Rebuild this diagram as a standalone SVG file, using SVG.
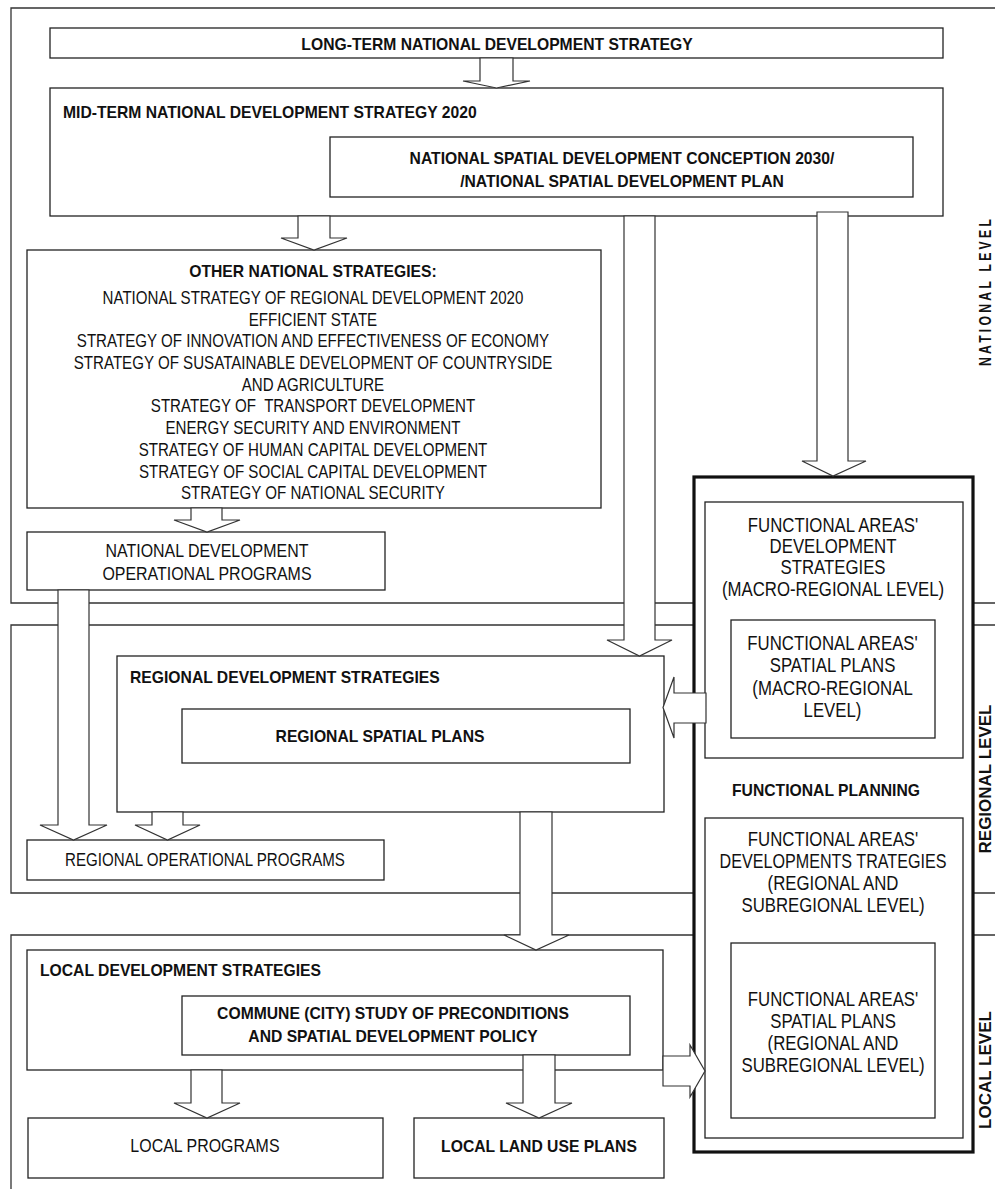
<svg xmlns="http://www.w3.org/2000/svg" width="995" height="1189" viewBox="0 0 995 1189">
<style>
.frame{fill:none;stroke:#333;stroke-width:1.3}
.box{fill:#fff;stroke:#222;stroke-width:1.3}
.thick{fill:#fff;stroke:#111;stroke-width:3.2}
.arr{fill:#fff;stroke:#333;stroke-width:1.2;stroke-linejoin:miter}
.b{font-family:'Liberation Sans',Arial,sans-serif;font-weight:bold;font-size:15.7px;fill:#111}
.n{font-family:'Liberation Sans',Arial,sans-serif;font-size:18px;fill:#111;text-anchor:middle}
.lv{font-family:'Liberation Sans',Arial,sans-serif;font-weight:bold;font-size:17px;fill:#111;text-anchor:middle}
.c{text-anchor:middle}
</style>
<rect width="995" height="1189" fill="#fff"/>

<g id="level-frames">
<path class="frame" d="M996,8 H11 V603 H996"/>
<path class="frame" d="M996,625 H11 V893 H996"/>
<path class="frame" d="M996,935 H11 V1195"/>
</g>

<g id="functional-planning">
<rect class="thick" x="694" y="477" width="279" height="675"/>
<text class="b c" x="826" y="795.5">FUNCTIONAL PLANNING</text>
</g>

<g id="long-term">
<rect class="box" x="50" y="28" width="893" height="30"/>
<text class="b c" x="497" y="49.5">LONG-TERM NATIONAL DEVELOPMENT STRATEGY</text>
</g>

<g id="mid-term">
<rect class="box" x="50" y="88" width="893" height="128"/>
<text class="b" x="63" y="117.5">MID-TERM NATIONAL DEVELOPMENT STRATEGY 2020</text>
</g>

<g id="national-spatial">
<rect class="box" x="330" y="137" width="583" height="60"/>
<text class="b c" x="622" y="163.5">NATIONAL SPATIAL DEVELOPMENT CONCEPTION 2030/</text>
<text class="b c" x="622" y="186.5">/NATIONAL SPATIAL DEVELOPMENT PLAN</text>
</g>

<g id="other-strategies">
<rect class="box" x="27" y="250" width="574" height="258"/>
<text class="b c" x="313" y="276.5">OTHER NATIONAL STRATEGIES:</text>
<g transform="scale(0.84,1)">
<text class="n" x="372.6" y="304">NATIONAL STRATEGY OF REGIONAL DEVELOPMENT 2020</text>
<text class="n" x="372.6" y="325.7">EFFICIENT STATE</text>
<text class="n" x="372.6" y="347.4">STRATEGY OF INNOVATION AND EFFECTIVENESS OF ECONOMY</text>
<text class="n" x="372.6" y="369.1">STRATEGY OF SUSATAINABLE DEVELOPMENT OF COUNTRYSIDE</text>
<text class="n" x="372.6" y="390.8">AND AGRICULTURE</text>
<text class="n" x="372.6" y="412.5" xml:space="preserve">STRATEGY OF  TRANSPORT DEVELOPMENT</text>
<text class="n" x="372.6" y="434.2">ENERGY SECURITY AND ENVIRONMENT</text>
<text class="n" x="372.6" y="455.9">STRATEGY OF HUMAN CAPITAL DEVELOPMENT</text>
<text class="n" x="372.6" y="477.6">STRATEGY OF SOCIAL CAPITAL DEVELOPMENT</text>
<text class="n" x="372.6" y="499.3">STRATEGY OF NATIONAL SECURITY</text>
</g>
</g>

<g id="national-operational">
<rect class="box" x="27" y="532" width="358" height="58"/>
<g transform="scale(0.84,1)">
<text class="n" x="246.4" y="557.5" style="font-size:19px">NATIONAL DEVELOPMENT</text>
<text class="n" x="246.4" y="580.5" style="font-size:19px">OPERATIONAL PROGRAMS</text>
</g>
</g>

<g id="functional-macro">
<rect class="box" x="705" y="502" width="258" height="256"/>
<g transform="scale(0.84,1)">
<text class="n" x="991.7" y="532" style="font-size:20px">FUNCTIONAL AREAS'</text>
<text class="n" x="991.7" y="553" style="font-size:20px">DEVELOPMENT</text>
<text class="n" x="991.7" y="574" style="font-size:20px">STRATEGIES</text>
<text class="n" x="991.7" y="596" style="font-size:20px">(MACRO-REGIONAL LEVEL)</text>
</g>
</g>

<g id="functional-macro-spatial">
<rect class="box" x="731" y="620" width="204" height="118"/>
<g transform="scale(0.84,1)">
<text class="n" x="991.1" y="650" style="font-size:20px">FUNCTIONAL AREAS'</text>
<text class="n" x="991.1" y="672" style="font-size:20px">SPATIAL PLANS</text>
<text class="n" x="991.1" y="695" style="font-size:20px">(MACRO-REGIONAL</text>
<text class="n" x="991.1" y="717" style="font-size:20px">LEVEL)</text>
</g>
</g>

<g id="functional-regional">
<rect class="box" x="705" y="818" width="258" height="320"/>
<g transform="scale(0.84,1)">
<text class="n" x="991.7" y="846" style="font-size:20px">FUNCTIONAL AREAS'</text>
<text class="n" x="991.7" y="868" style="font-size:20px" textLength="270" lengthAdjust="spacingAndGlyphs">DEVELOPMENTS TRATEGIES</text>
<text class="n" x="991.7" y="890" style="font-size:20px">(REGIONAL AND</text>
<text class="n" x="991.7" y="912" style="font-size:20px">SUBREGIONAL LEVEL)</text>
</g>
</g>

<g id="functional-regional-spatial">
<rect class="box" x="731" y="943" width="204" height="175"/>
<g transform="scale(0.84,1)">
<text class="n" x="991.7" y="1006" style="font-size:20px">FUNCTIONAL AREAS'</text>
<text class="n" x="991.7" y="1028" style="font-size:20px">SPATIAL PLANS</text>
<text class="n" x="991.7" y="1050" style="font-size:20px">(REGIONAL AND</text>
<text class="n" x="991.7" y="1072" style="font-size:20px">SUBREGIONAL LEVEL)</text>
</g>
</g>

<g id="regional-development">
<rect class="box" x="117" y="656" width="547" height="156"/>
<text class="b" x="130" y="682.5">REGIONAL DEVELOPMENT STRATEGIES</text>
</g>

<g id="regional-spatial">
<rect class="box" x="182" y="709" width="448" height="54"/>
<text class="b c" x="380" y="742">REGIONAL SPATIAL PLANS</text>
</g>

<g id="regional-operational">
<rect class="box" x="27" y="840" width="357" height="40"/>
<g transform="scale(0.84,1)">
<text class="n" x="244" y="866">REGIONAL OPERATIONAL PROGRAMS</text>
</g>
</g>

<g id="local-development">
<rect class="box" x="27" y="950" width="636" height="120"/>
<text class="b" x="40" y="975.5">LOCAL DEVELOPMENT STRATEGIES</text>
</g>

<g id="commune-study">
<rect class="box" x="182" y="996" width="448" height="59"/>
<text class="b c" x="393" y="1018.5">COMMUNE (CITY) STUDY OF PRECONDITIONS</text>
<text class="b c" x="393" y="1041.5">AND SPATIAL DEVELOPMENT POLICY</text>
</g>

<g id="local-programs">
<rect class="box" x="28" y="1118" width="355" height="60"/>
<g transform="scale(0.84,1)">
<text class="n" x="244" y="1152" style="font-size:19px">LOCAL PROGRAMS</text>
</g>
</g>

<g id="local-land-use">
<rect class="box" x="414" y="1118" width="250" height="60"/>
<text class="b c" x="539" y="1151.5">LOCAL LAND USE PLANS</text>
</g>

<g id="connectors">
<polygon class="arr" points="480,58 513,58 513,81 530,81 496.5,88 463,81 480,81"/>
<polygon class="arr" points="298,216 330,216 330,238 347,238 314,250 281,238 298,238"/>
<polygon class="arr" points="624,216 655,216 655,640 672,640 639.5,656 607,640 624,640"/>
<polygon class="arr" points="817,212 848,212 848,461 866,461 833,476 802,461 817,461"/>
<polygon class="arr" points="191,508 222,508 222,520 240,520 207,532 174,520 191,520"/>
<polygon class="arr" points="58,590 89,590 89,825 107,825 73.5,840 40,825 58,825"/>
<polygon class="arr" points="152,812 183,812 183,825 200,825 167.5,840 135,825 152,825"/>
<polygon class="arr" points="706,693 706,723 674,723 674,738 663,707.5 674,677 674,693"/>
<polygon class="arr" points="520,812 552,812 552,935 569,935 536,950 504,935 520,935"/>
<polygon class="arr" points="191,1070 222,1070 222,1103 240,1103 207,1118 174,1103 191,1103"/>
<polygon class="arr" points="523,1055 555,1055 555,1103 572,1103 539,1118 506,1103 523,1103"/>
<polygon class="arr" points="663,1056 690,1056 690,1045 705,1071 690,1097 690,1086 663,1086"/>
</g>

<g id="level-labels">
<text class="lv" transform="translate(990.5,291) rotate(-90) scale(0.72,1)" letter-spacing="4.5">NATIONAL LEVEL</text>
<text class="lv" transform="translate(990.5,779) rotate(-90)">REGIONAL LEVEL</text>
<text class="lv" transform="translate(990.5,1070) rotate(-90)">LOCAL LEVEL</text>
</g>
</svg>
